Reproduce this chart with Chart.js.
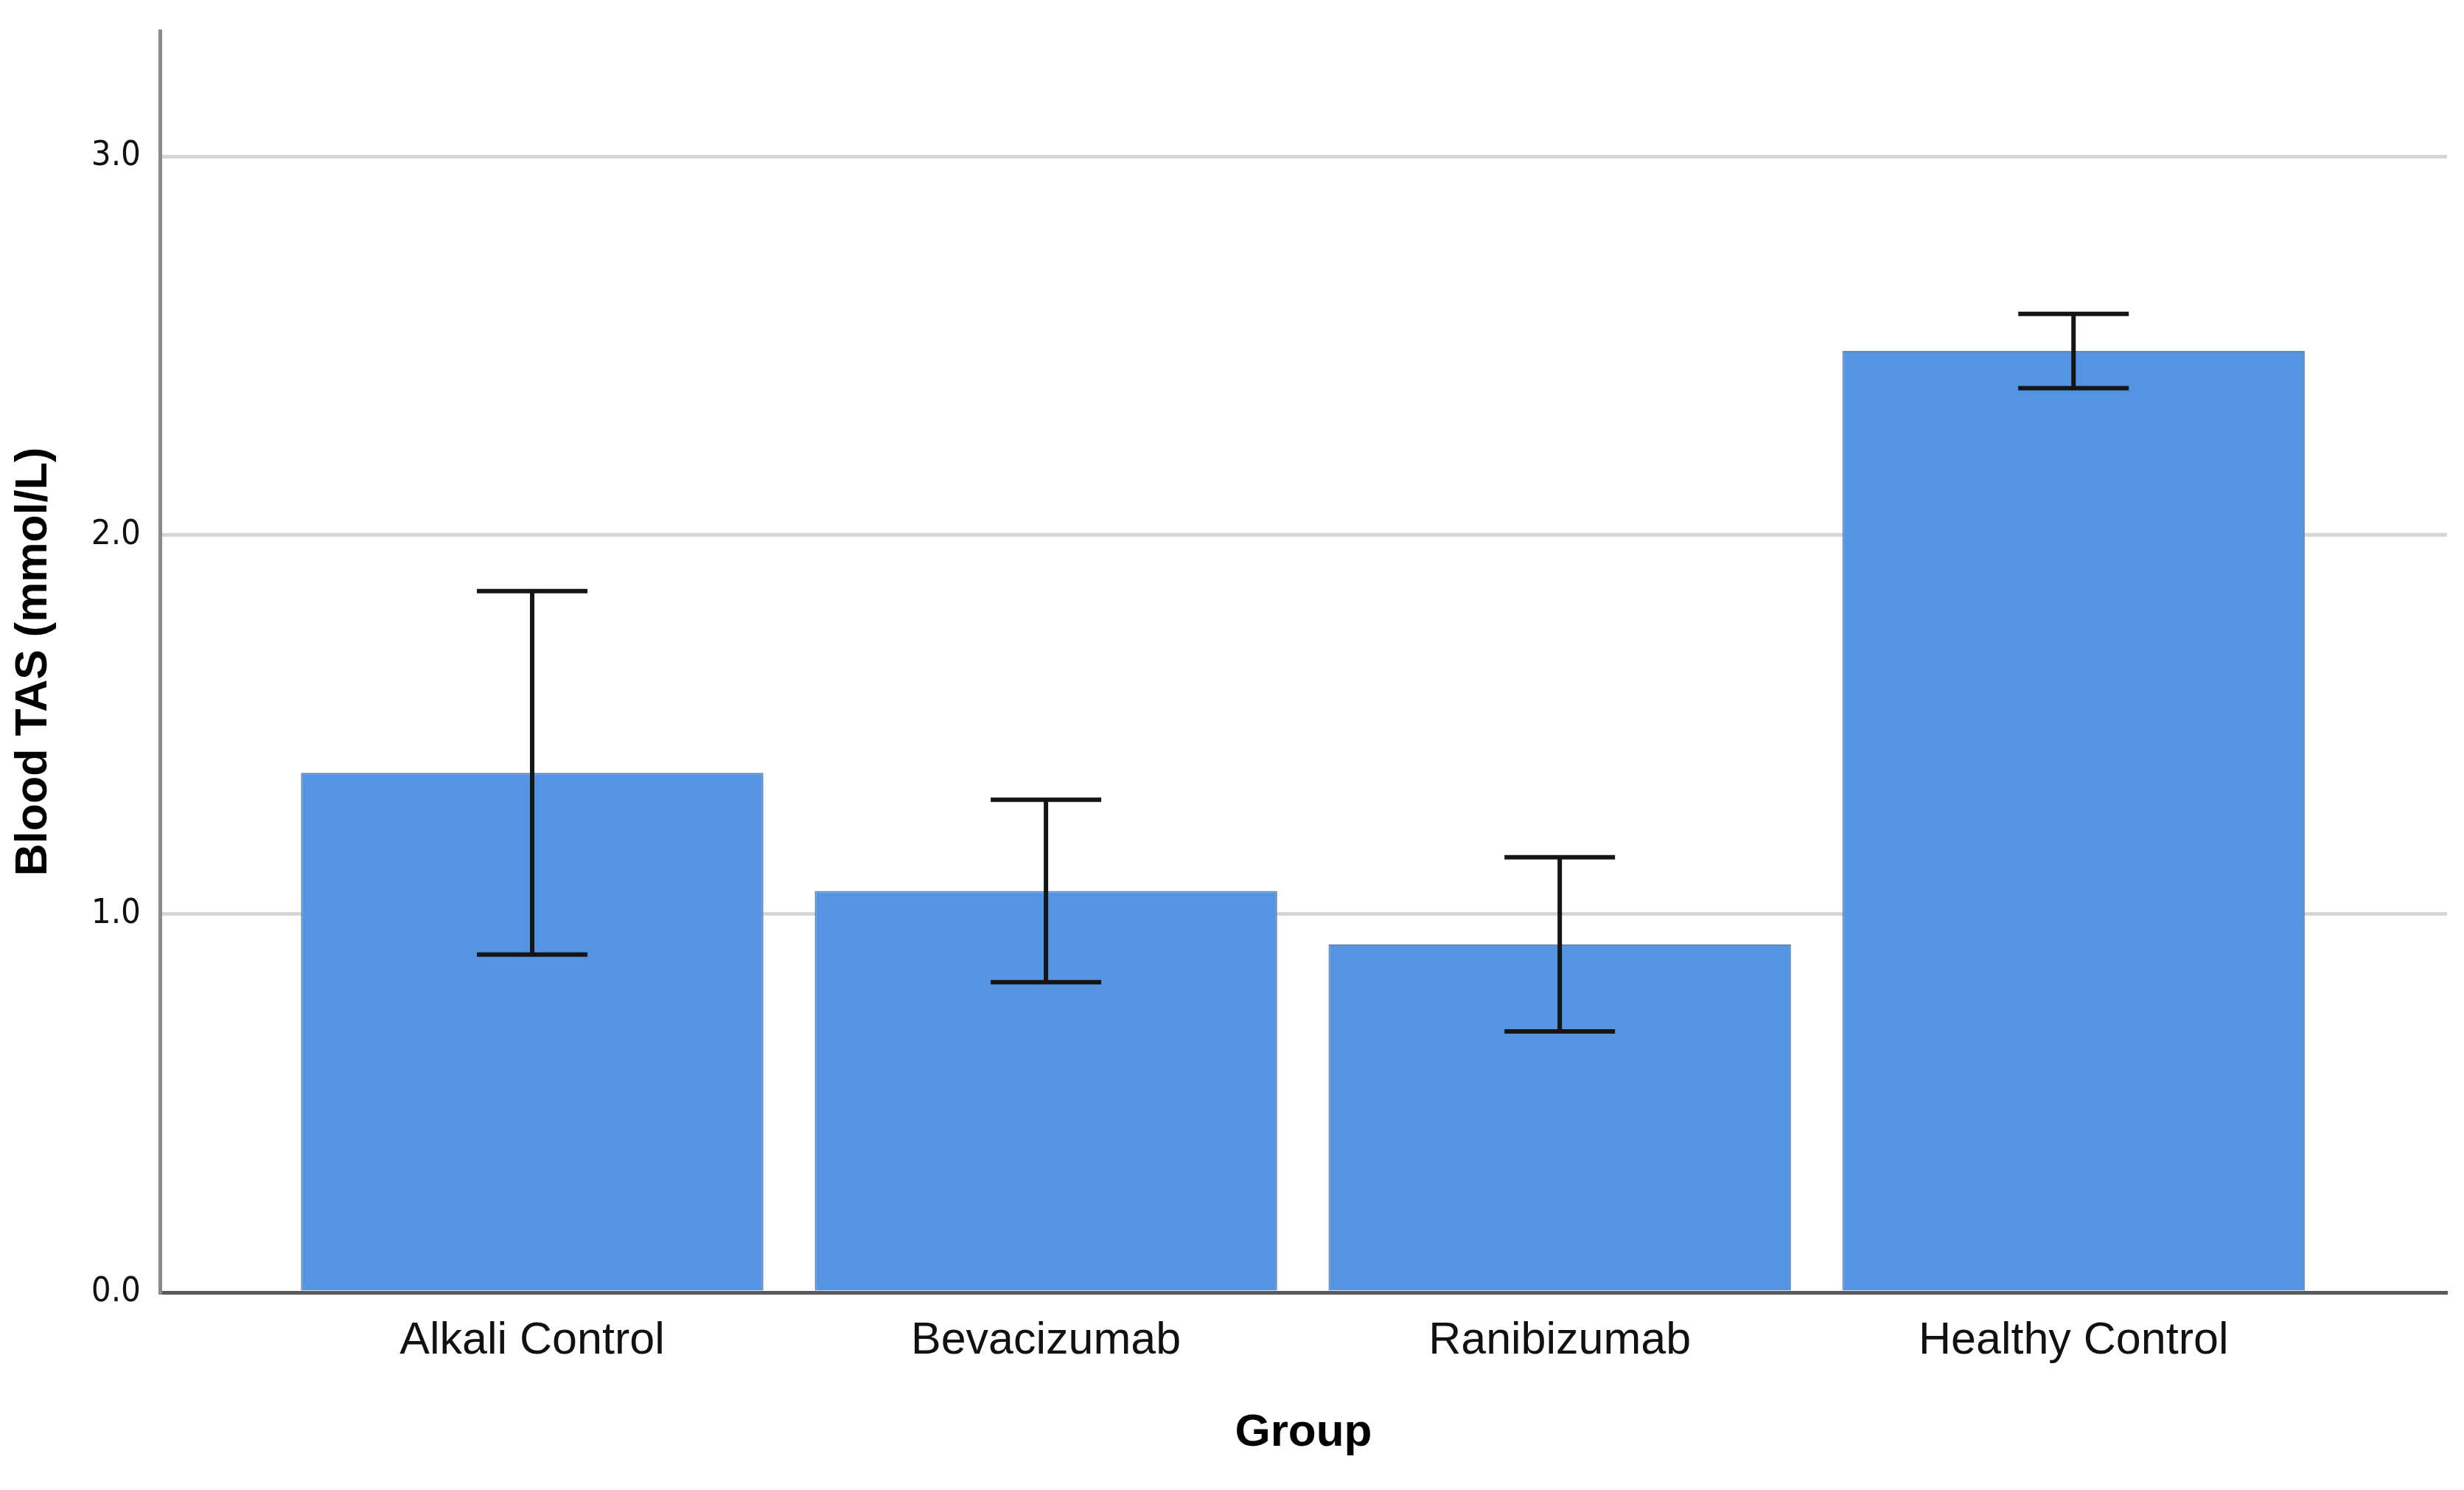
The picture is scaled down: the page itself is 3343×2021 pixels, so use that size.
<!DOCTYPE html>
<html>
<head>
<meta charset="utf-8">
<script src="https://cdn.jsdelivr.net/npm/chart.js@4.4.0/dist/chart.umd.min.js"></script>
<style>
  html, body { margin: 0; padding: 0; background: #fff; overflow: hidden; }
</style>
</head>
<body>
<canvas id="chart" width="3343" height="2021"></canvas>
<script>
const groups = ['Alkali Control', 'Bevacizumab', 'Ranibizumab', 'Healthy Control'];
const means = [1.372, 1.060, 0.919, 2.486];
const errors = [0.480, 0.241, 0.230, 0.098];
const yTicks = [0, 1, 2, 3];

const arial = "'Liberation Sans', Arial, sans-serif";

// whiskers drawn from the same scales as the bars
const errorBars = {
  id: 'errorBars',
  afterDatasetsDraw(chart) {
    const { ctx, scales: { x, y } } = chart;
    ctx.save();
    ctx.strokeStyle = '#151515';
    ctx.lineWidth = 6;
    means.forEach((m, i) => {
      const px = x.getPixelForValue(i);
      const top = y.getPixelForValue(m + errors[i]);
      const bot = y.getPixelForValue(m - errors[i]);
      ctx.beginPath();
      ctx.moveTo(px, top); ctx.lineTo(px, bot);
      ctx.moveTo(px - 75, top); ctx.lineTo(px + 75, top);
      ctx.moveTo(px - 75, bot); ctx.lineTo(px + 75, bot);
      ctx.stroke();
    });
    ctx.restore();
  }
};

new Chart(document.getElementById('chart'), {
  type: 'bar',
  data: {
    datasets: [{
      data: means.map((m, i) => ({ x: i, y: m })),
      backgroundColor: '#5594e2',
      borderColor: '#6088bb',
      borderWidth: 2,
      barPercentage: 0.9,
      categoryPercentage: 1
    }]
  },
  options: {
    responsive: false,
    animation: false,
    devicePixelRatio: 1,
    layout: { padding: { top: 42, right: 23, left: 0, bottom: 0 } },
    plugins: { legend: { display: false }, tooltip: { enabled: false } },
    scales: {
      x: {
        type: 'linear',
        offset: false,
        min: -0.7245,
        max: 3.727,
        afterBuildTicks: s => { s.ticks = groups.map((g, i) => ({ value: i })); },
        afterFit: s => { s.height = 268; s.paddingLeft = 0; s.paddingRight = 0; },
        grid: { display: false, drawTicks: false },
        border: { color: '#5a5a5a', width: 5 },
        ticks: {
          callback: v => groups[v],
          font: { family: arial, size: 61 },
          color: '#111',
          padding: 30,
          maxRotation: 0,
          autoSkip: false
        },
        title: {
          display: true,
          text: 'Group',
          font: { family: arial, size: 62, weight: 'bold' },
          color: '#000',
          padding: { top: 0, bottom: 40 }
        }
      },
      y: {
        min: 0,
        max: 3.331,
        afterBuildTicks: s => { s.ticks = yTicks.map(v => ({ value: v })); },
        afterFit: s => { s.width = 217; s.paddingTop = 0; s.paddingBottom = 0; },
        grid: {
          color: c => c.tick && c.tick.value === 0 ? 'rgba(0,0,0,0)' : '#d6d6d6',
          lineWidth: 5,
          drawTicks: false
        },
        border: { color: '#8a8a8a', width: 5 },
        ticks: {
          callback: v => v.toFixed(1),
          font: { family: "'DejaVu Sans Condensed', 'DejaVu Sans', sans-serif", size: 47 },
          color: '#111',
          padding: 26
        },
        title: {
          display: true,
          text: 'Blood TAS (mmol/L)',
          font: { family: arial, size: 61, weight: 'bold' },
          color: '#000',
          padding: { top: 10, bottom: 0 }
        }
      }
    }
  },
  plugins: [errorBars]
});
</script>
</body>
</html>
